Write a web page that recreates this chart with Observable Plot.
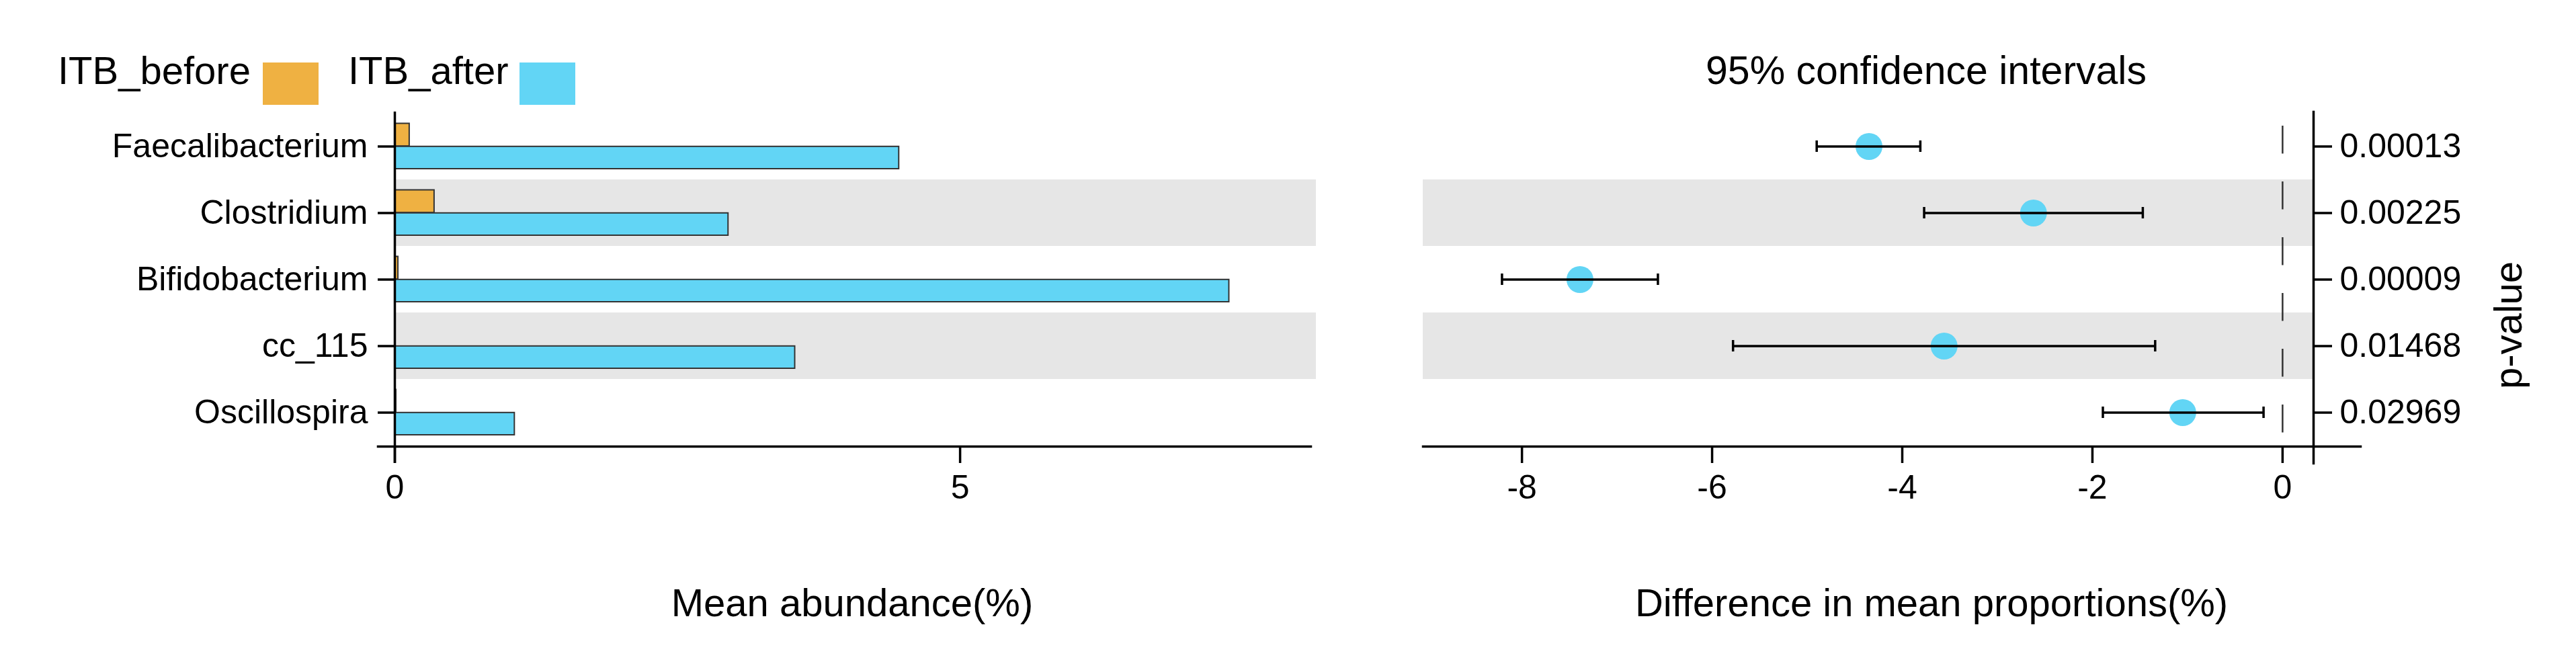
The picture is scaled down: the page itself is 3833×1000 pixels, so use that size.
<!DOCTYPE html>
<html>
<head>
<meta charset="utf-8">
<script src="https://cdn.jsdelivr.net/npm/d3@7"></script>
<script src="https://cdn.jsdelivr.net/npm/@observablehq/plot@0.6"></script>
<style>
  html, body { margin: 0; padding: 0; background: #fff; }
  #wrap { position: relative; width: 3833px; height: 1000px; font-family: "Liberation Sans", Arial, sans-serif; }
  #wrap > svg { position: absolute; top: 0; }
</style>
</head>
<body>
<div id="wrap"></div>
<script>
// ---------- data ----------
const genera = ["Faecalibacterium", "Clostridium", "Bifidobacterium", "cc_115", "Oscillospira"];
const meanBefore = [0.13, 0.35, 0.03, 0.005, 0.012];   // ITB_before mean abundance (%)
const meanAfter  = [4.46, 2.95, 7.38, 3.54, 1.06];     // ITB_after mean abundance (%)
const diffMean   = [-4.35, -2.62, -7.39, -3.56, -1.05]; // difference in mean proportions (%)
const ciLow      = [-4.90, -3.77, -8.21, -5.78, -1.89];
const ciHigh     = [-3.81, -1.47, -6.57, -1.34, -0.20];
const pValues    = ["0.00013", "0.00225", "0.00009", "0.01468", "0.02969"];
const groups     = ["ITB_before", "ITB_after"];
const groupColors = ["#EFB142", "#62D5F5"];
const leftTicks  = [0, 5];
const rightTicks = [-8, -6, -4, -2, 0];
const titleText  = "95% confidence intervals";
const leftXLabel = "Mean abundance(%)";
const rightXLabel = "Difference in mean proportions(%)";
const rightYLabel = "p-value";

// ---------- derived tables ----------
const rowsBefore = genera.map((g, i) => ({genus: g, value: meanBefore[i]}));
const rowsAfter  = genera.map((g, i) => ({genus: g, value: meanAfter[i]}));
const rowsCI = genera.map((g, i) => ({genus: g, diff: diffMean[i], lo: ciLow[i], hi: ciHigh[i]}));
const shaded = genera.filter((g, i) => i % 2 === 1);
const pMap = new Map(genera.map((g, i) => [g, pValues[i]]));

const FONT = '"Liberation Sans", Arial, sans-serif';
const GRAY = "#e6e6e6";
const BAR_STROKE = "#333";
const AX = 3.5;
const TICK_FONT = 50;

const wrap = document.getElementById("wrap");

// ---------- left panel: mean abundance ----------
const xLeft = [0, 8.15];
const left = Plot.plot({
  width: 2000, height: 1000,
  marginLeft: 587, marginRight: 42, marginTop: 166, marginBottom: 336,
  style: {fontFamily: FONT, color: "#000", background: "transparent", overflow: "visible"},
  x: {domain: xLeft},
  y: {type: "band", domain: genera, padding: 0},
  marks: [
    Plot.barX(shaded, {y: d => d, x1: xLeft[0], x2: xLeft[1], fill: GRAY}),
    Plot.barX(rowsBefore, {y: "genus", x1: 0, x2: "value", fill: groupColors[0], stroke: BAR_STROKE, strokeWidth: 2, insetTop: 15.5, insetBottom: 49.8}),
    Plot.barX(rowsAfter,  {y: "genus", x1: 0, x2: "value", fill: groupColors[1], stroke: BAR_STROKE, strokeWidth: 2, insetTop: 49.8, insetBottom: 16}),
    Plot.ruleX([0], {stroke: "#000", strokeWidth: AX, insetBottom: -25}),
    Plot.frame({anchor: "bottom", stroke: "#000", strokeWidth: AX, insetLeft: -25, insetRight: 8}),
    Plot.axisX(leftTicks, {tickSize: 25, tickPadding: 17, strokeWidth: AX, fontSize: TICK_FONT, label: null, tickFormat: d => String(d)}),
    Plot.axisY({tickSize: 25, tickPadding: 15, strokeWidth: AX, fontSize: TICK_FONT, label: null})
  ]
});
left.style.left = "0px";
wrap.appendChild(left);

// ---------- right panel: 95% CI of difference ----------
const xRight = [-9.04, 0.326];
const right = Plot.plot({
  width: 1833, height: 1000,
  marginLeft: 117, marginRight: 391, marginTop: 166, marginBottom: 336,
  style: {fontFamily: FONT, color: "#000", background: "transparent", overflow: "visible"},
  x: {domain: xRight},
  y: {type: "band", domain: genera, padding: 0},
  marks: [
    Plot.barX(shaded, {y: d => d, x1: xRight[0], x2: xRight[1], fill: GRAY}),
    Plot.ruleX([0], {stroke: "#333", strokeWidth: 2.5, strokeDasharray: "41.5,41.5", insetTop: 21, insetBottom: 20}),
    Plot.dot(rowsCI, {x: "diff", y: "genus", r: 20, fill: groupColors[1], stroke: null}),
    Plot.ruleY(rowsCI, {y: "genus", x1: "lo", x2: "hi", stroke: "#000", strokeWidth: AX}),
    Plot.tickX(rowsCI, {x: "lo", y: "genus", stroke: "#000", strokeWidth: AX, insetTop: 41, insetBottom: 41}),
    Plot.tickX(rowsCI, {x: "hi", y: "genus", stroke: "#000", strokeWidth: AX, insetTop: 41, insetBottom: 41}),
    Plot.frame({anchor: "bottom", stroke: "#000", strokeWidth: AX, insetRight: -70}),
    Plot.frame({anchor: "right", stroke: "#000", strokeWidth: AX, insetBottom: -25}),
    Plot.axisX(rightTicks, {tickSize: 25, tickPadding: 17, strokeWidth: AX, fontSize: TICK_FONT, label: null, tickFormat: d => String(d)}),
    Plot.axisY({anchor: "right", tickSize: 27, tickPadding: 12, strokeWidth: AX, fontSize: TICK_FONT, label: null, tickFormat: g => pMap.get(g)})
  ]
});
right.style.left = "2000px";
wrap.appendChild(right);

// ---------- overlay: legend, title, axis titles ----------
const overlay = d3.create("svg")
  .attr("width", 3833).attr("height", 1000)
  .style("left", "0px")
  .style("font-family", FONT)
  .style("pointer-events", "none");

const legendX = [86, 518];
const swatchX = [391, 773];
groups.forEach((g, i) => {
  overlay.append("text").attr("x", legendX[i]).attr("y", 125)
    .attr("font-size", 58).attr("fill", "#000").text(g);
  overlay.append("rect").attr("x", swatchX[i]).attr("y", 93)
    .attr("width", 83).attr("height", 63).attr("fill", groupColors[i]);
});

overlay.append("text").attr("x", 2866).attr("y", 125).attr("text-anchor", "middle")
  .attr("font-size", 59).attr("fill", "#000").text(titleText);
overlay.append("text").attr("x", 1268).attr("y", 917).attr("text-anchor", "middle")
  .attr("font-size", 58).attr("fill", "#000").text(leftXLabel);
overlay.append("text").attr("x", 2874).attr("y", 917).attr("text-anchor", "middle")
  .attr("font-size", 58).attr("fill", "#000").text(rightXLabel);
overlay.append("text").attr("transform", "translate(3752,484) rotate(-90)")
  .attr("text-anchor", "middle").attr("font-size", 58).attr("fill", "#000").text(rightYLabel);

wrap.appendChild(overlay.node());
</script>
</body>
</html>
